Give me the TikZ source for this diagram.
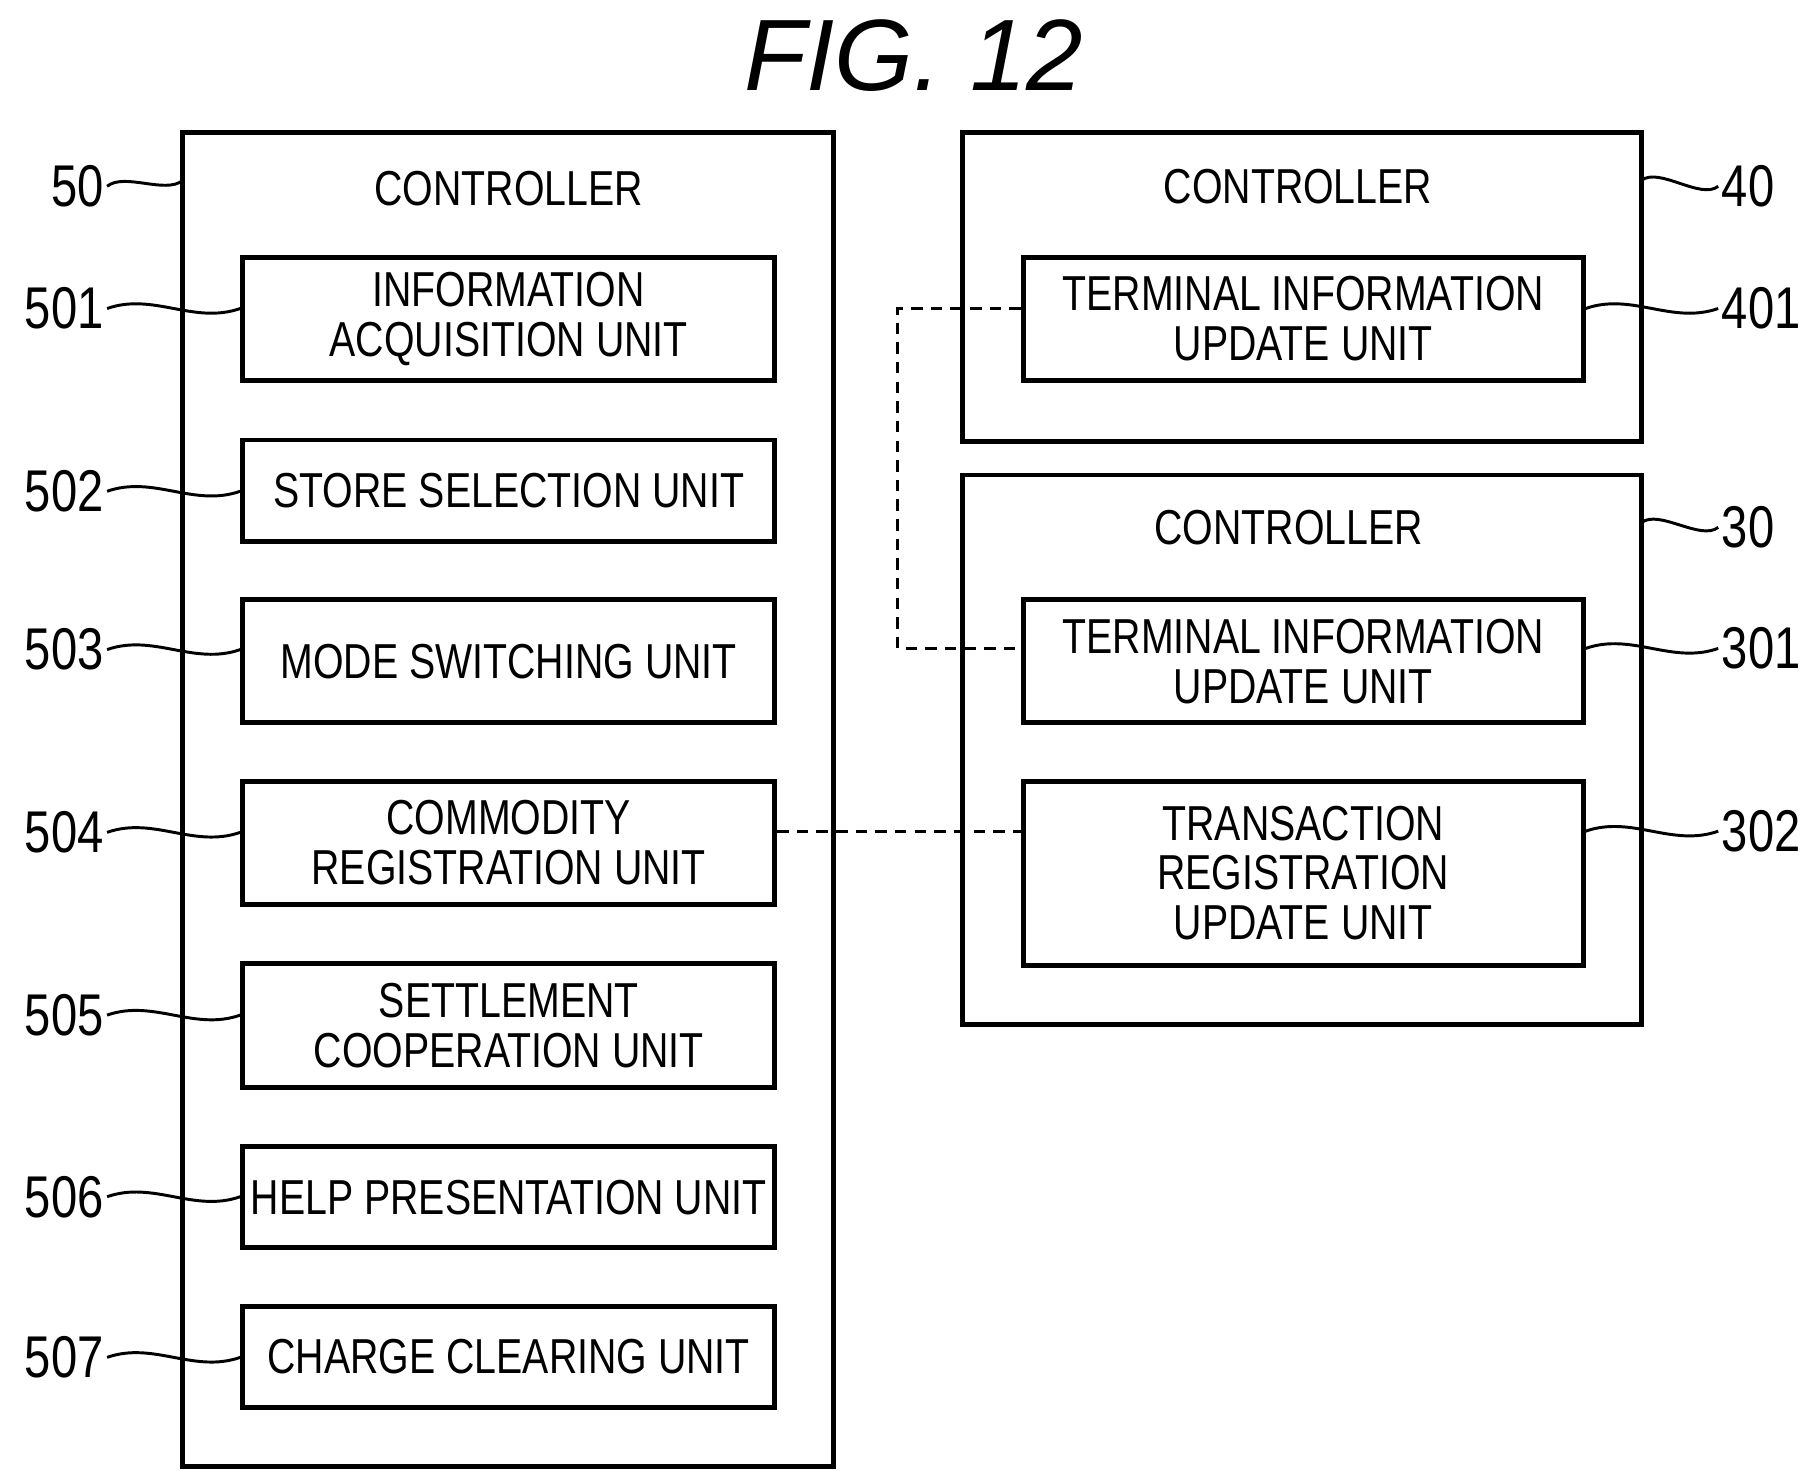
\documentclass[tikz,border=0pt]{standalone}
\usepackage{fontspec}
\setmainfont{Liberation Sans}[FakeStretch=0.8]
\newfontfamily\titlefont{Liberation Sans}
\usetikzlibrary{positioning}
\tikzset{
  ctrl/.style = {rectangle, draw=black, line width=3pt, inner sep=0pt},
  unit/.style = {rectangle, draw=black, line width=3pt, minimum width=457*0.25mm, align=center, font=\fontsize{30}{30.5}\selectfont, inner sep=0pt},
  runit/.style = {unit, minimum width=481*0.25mm},
  refnum/.style = {font=\fontsize{36}{40}\selectfont, inner sep=2pt},
  lead/.style = {line width=1.8pt},
  link/.style = {line width=1.8pt, dash pattern=on 7pt off 5pt}
}
\begin{document}
\begin{tikzpicture}[x=0.25mm, y=-0.25mm]
\useasboundingbox (0,0) rectangle (1560,1274);

\node[font=\titlefont\itshape\fontsize{62}{70}\selectfont] (title) at (785,48) {FIG. 12};

% controller 50
\draw[ctrl] (157,114) rectangle (716,1260);
\node[font=\fontsize{30}{34}\selectfont] (c50) at (437,162) {CONTROLLER};
\node[unit, minimum height=106*0.25mm] (u501) at (437,274) {INFORMATION\\ACQUISITION UNIT};
\node[unit, minimum height=87*0.25mm] (u502) at (437,421.5) {STORE SELECTION UNIT};
\node[unit, minimum height=106*0.25mm] (u503) at (437,568) {MODE SWITCHING UNIT};
\node[unit, minimum height=106*0.25mm] (u504) at (437,724) {COMMODITY\\REGISTRATION UNIT};
\node[unit, minimum height=106*0.25mm] (u505) at (437,881) {SETTLEMENT\\COOPERATION UNIT};
\node[unit, minimum height=87*0.25mm] (u506) at (437,1028.5) {HELP PRESENTATION UNIT};
\node[unit, minimum height=87*0.25mm] (u507) at (437,1165.5) {CHARGE CLEARING UNIT};

% controller 40
\draw[ctrl] (827,114) rectangle (1410,379);
\node[font=\fontsize{30}{34}\selectfont] (c40) at (1115,160) {CONTROLLER};
\node[runit, minimum height=106*0.25mm] (u401) at (1119.5,274) {TERMINAL INFORMATION\\UPDATE UNIT};

% controller 30
\draw[ctrl] (827,408) rectangle (1410,880);
\node[font=\fontsize{30}{34}\selectfont] (c30) at (1107,453) {CONTROLLER};
\node[runit, minimum height=106*0.25mm] (u301) at (1119.5,568) {TERMINAL INFORMATION\\UPDATE UNIT};
\node[runit, minimum height=158*0.25mm] (u302) at (1119.5,750) {TRANSACTION\\REGISTRATION\\UPDATE UNIT};

% reference numbers
\node[refnum, anchor=east] (n50) at (92,160) {50};
\coordinate (b50) at (157,155);
\foreach \n/\y in {501/265,502/422,503/558,504/715,505/872,506/1028,507/1166}
  \node[refnum, anchor=east] (n\n) at (92,\y) {\n};
\node[refnum, anchor=west] (n40) at (1476,160) {40};
\coordinate (b40) at (1410,155);
\node[refnum, anchor=west] (n30) at (1476,453) {30};
\coordinate (b30) at (1410,449);
\node[refnum, anchor=west] (n401) at (1476,265) {401};
\node[refnum, anchor=west] (n301) at (1476,557) {301};
\node[refnum, anchor=west] (n302) at (1476,714) {302};

% leaders
\draw[lead] (n50.east) .. controls +(15,-12) and +(-15,12) .. (b50);
\foreach \n in {501,502,503,504,505,506,507}
  \draw[lead] (n\n.east) .. controls +(40,-14) and +(-40,14) .. (u\n.west |- n\n.east);
\draw[lead] (n40.west) .. controls +(-15,12) and +(15,-12) .. (b40);
\draw[lead] (n30.west) .. controls +(-15,12) and +(15,-12) .. (b30);
\foreach \n in {401,301,302}
  \draw[lead] (n\n.west) .. controls +(-40,14) and +(40,-14) .. (u\n.east |- n\n.west);

% links
\draw[link] (u401.west |- 0,265) -- (771,265) -- (771,557) -- (u301.west |- 0,557);
\draw[link] (u504.east |- 0,714) -- (u302.west |- 0,714);
\end{tikzpicture}
\end{document}
